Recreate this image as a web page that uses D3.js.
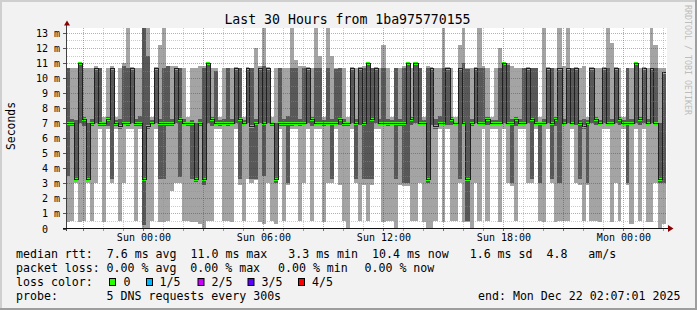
<!DOCTYPE html>
<html><head><meta charset="utf-8">
<script src="https://cdn.jsdelivr.net/npm/d3@7"></script>
<style>
body{margin:0;background:#f2f2f2;}
svg text{font-family:"DejaVu Sans Mono",monospace;}
</style>
</head><body>
<svg id="chart" width="697" height="310"></svg>
<script>
// ---------------- data ----------------
const titleText = "Last 30 Hours from 1ba975770155";
const startTime = new Date(Date.UTC(2025, 11, 20, 20, 7, 1));
const endTime   = new Date(Date.UTC(2025, 11, 22, 2, 7, 1));
const stepMinutes = 12;

// five sorted pings per sample (ms): max, 4th, median, 2nd, min
const pingMax = [
 10.7,10.7,10.7,11.0,10.7,10.7,10.7,10.8,10.7,7.4,
 10.7,10.8,7.4,10.7,11.0,13.4,10.7,10.7,10.7,13.4,
 13.4,7.4,10.7,12.2,13.4,10.8,10.8,10.8,10.7,10.7,
 7.4,10.7,10.7,10.8,10.8,11.0,10.7,10.7,7.4,10.7,
 10.7,10.7,10.7,10.7,7.4,10.7,10.7,12.0,10.8,13.4,
 10.7,7.4,10.7,10.7,10.7,10.7,13.4,11.2,10.8,10.8,
 10.7,10.7,13.4,11.5,7.4,13.4,11.5,10.7,10.7,10.7,
 7.4,10.7,10.7,10.7,10.8,11.0,10.7,10.7,10.7,12.2,
 10.7,7.4,10.7,10.7,10.8,11.0,10.7,11.0,10.7,7.4,
 10.8,10.7,10.7,10.7,13.4,10.7,10.7,7.4,12.2,13.4,
 10.7,10.7,10.7,13.4,10.8,10.7,7.4,10.7,12.0,11.0,
 11.0,10.8,10.7,10.7,10.7,10.7,10.7,10.7,7.4,13.4,
 10.7,10.7,10.7,13.4,10.8,13.4,10.7,10.7,10.7,10.8,
 7.4,10.7,10.7,10.7,10.7,13.4,12.3,10.7,10.7,7.4,
 10.7,10.7,11.0,10.7,10.7,10.7,13.4,12.2,10.7,10.7];
const pingP4 = [
 10.7,7.3,7.2,11.0,7.4,7.0,7.3,10.7,10.7,7.1,
 7.4,10.7,7.2,7.3,10.8,10.7,10.7,7.3,7.5,13.4,
 11.5,7.2,10.7,7.3,10.7,10.8,7.3,10.7,10.7,7.3,
 7.1,7.2,7.0,7.3,10.7,11.0,7.4,10.5,7.2,7.3,
 10.7,7.3,10.7,10.7,7.2,10.7,10.7,7.3,10.7,10.8,
 10.7,7.1,7.0,10.7,7.3,7.5,10.7,10.7,7.3,10.7,
 10.7,7.4,10.7,10.7,7.2,10.7,7.3,10.6,10.7,7.3,
 7.1,10.7,7.3,10.7,10.7,11.0,10.7,10.7,7.3,10.7,
 7.3,7.2,10.7,7.3,10.7,11.0,7.4,11.0,10.7,7.2,
 10.7,10.7,7.3,7.5,10.7,10.7,7.4,7.1,10.7,11.0,
 10.6,7.3,10.7,10.7,10.7,7.4,7.2,7.2,10.7,11.0,
 10.9,7.3,7.4,7.3,10.7,10.7,10.7,10.7,7.1,7.3,
 10.7,10.7,7.4,10.7,7.3,10.7,10.7,10.7,7.2,7.3,
 7.2,10.7,7.4,7.2,10.7,10.7,7.3,10.7,7.4,7.2,
 10.7,7.3,11.0,7.4,10.7,7.3,10.7,10.7,7.0,10.5];
const medianRtt = [
 7.0,7.0,3.3,11.0,7.3,3.3,7.0,10.7,7.0,7.0,
 7.3,10.7,7.0,6.8,7.0,7.0,10.7,7.0,7.0,3.3,
 6.8,7.0,10.7,7.0,7.0,7.0,7.0,10.7,7.3,7.0,
 7.0,7.0,3.3,7.0,3.3,11.0,7.3,7.0,7.0,7.0,
 7.0,7.0,10.7,7.3,7.0,10.7,6.8,7.0,10.7,7.0,
 10.7,7.0,3.3,7.0,7.0,7.0,7.0,7.0,7.0,7.0,
 10.7,7.3,7.0,7.0,7.0,7.0,7.0,7.0,7.3,7.0,
 7.0,10.7,7.0,10.7,7.0,11.0,7.3,10.7,7.0,7.0,
 7.0,7.0,7.0,7.0,7.0,11.0,7.3,11.0,7.0,7.0,
 3.3,10.7,6.8,7.0,7.0,10.7,7.3,7.0,10.7,7.0,
 3.3,7.0,10.7,7.0,7.0,7.3,7.0,7.0,7.0,11.0,
 7.0,7.0,7.3,7.0,7.0,10.7,7.3,7.0,7.0,7.0,
 10.7,7.0,7.3,10.7,7.0,10.7,7.0,10.7,7.0,6.8,
 7.0,10.7,7.3,7.0,10.7,7.0,7.0,10.7,7.3,7.0,
 7.0,7.0,11.0,7.3,10.7,7.0,10.7,7.0,3.3,10.4];
const pingP2 = [
 3.5,6.8,3.3,7.0,6.8,3.2,6.8,7.0,6.8,6.8,
 6.8,3.3,6.8,6.6,6.9,6.8,7.0,6.8,6.8,0.2,
 6.6,6.9,7.0,3.3,3.3,6.8,6.8,7.0,3.4,6.9,
 6.8,3.3,3.1,6.8,2.9,7.0,6.8,6.9,6.8,6.9,
 6.8,6.9,7.0,3.3,6.9,7.0,3.3,3.3,7.0,3.5,
 7.0,6.8,3.0,6.8,6.8,3.0,6.8,6.9,6.8,6.9,
 7.0,6.8,6.9,6.9,6.8,6.9,3.3,6.9,6.9,6.8,
 6.8,7.0,3.3,6.9,3.3,3.3,3.3,7.0,6.9,6.9,
 6.8,6.9,3.3,6.8,3.0,3.0,6.9,7.0,6.9,6.9,
 3.0,6.9,6.6,6.9,6.9,6.9,6.9,6.9,3.3,6.9,
 0.5,6.8,7.0,6.9,6.9,6.9,6.9,6.9,6.9,7.0,
 6.9,3.0,6.8,6.9,6.9,7.0,3.3,6.9,3.0,6.9,
 7.0,3.3,6.8,3.0,6.9,7.0,6.9,6.9,3.3,6.6,
 3.0,7.0,6.9,6.9,7.0,6.9,6.9,7.0,6.9,6.9,
 3.0,6.9,7.0,6.9,7.0,6.9,7.0,6.9,3.0,3.0];
const pingMin = [
 0.4,0.5,3.0,0.4,0.5,3.0,0.5,3.0,6.6,0.4,
 6.6,3.0,6.6,0.5,3.0,6.6,6.6,0.5,6.6,0.0,
 0.0,0.5,6.6,0.4,0.4,0.5,2.5,3.0,3.0,0.5,
 0.5,0.4,0.4,0.3,0.0,0.5,0.5,6.6,6.6,0.5,
 0.5,0.4,6.6,2.9,0.5,3.3,3.0,3.2,0.4,0.3,
 3.0,0.5,0.3,6.6,0.5,2.9,6.6,6.6,0.5,3.0,
 6.6,0.5,6.6,6.6,0.4,3.0,3.0,6.6,2.9,0.5,
 0.0,6.6,3.0,0.5,2.9,0.5,2.9,6.6,6.6,0.4,
 0.5,0.5,0.0,2.9,2.8,2.8,0.5,0.5,3.0,0.4,
 0.0,0.0,0.5,6.6,0.4,6.6,0.5,0.5,3.0,0.4,
 0.4,0.0,3.0,0.5,6.6,0.5,6.6,6.6,0.4,6.6,
 3.0,2.8,0.5,6.6,6.6,3.0,3.0,6.6,0.5,0.4,
 6.6,3.0,0.4,0.5,0.5,0.5,6.6,3.0,2.9,0.5,
 2.9,0.5,0.5,0.4,6.6,6.6,0.4,3.0,0.5,6.6,
 2.9,0.3,6.6,0.5,6.6,0.4,0.4,3.0,0.0,0.3];
// packets lost per sample (of 5)
const lossCount = medianRtt.map(() => 0);

const yTickValues = [0,1,2,3,4,5,6,7,8,9,10,11,12,13];
const yUnit = "m";
const xTickTimes = ["2025-12-21T00:00:00Z","2025-12-21T06:00:00Z","2025-12-21T12:00:00Z","2025-12-21T18:00:00Z","2025-12-22T00:00:00Z"];
const xTickLabels = ["Sun 00:00","Sun 06:00","Sun 12:00","Sun 18:00","Mon 00:00"];

const lossLabels = ["0","1/5","2/5","3/5","4/5"];
const lossColors = ["#26ff00","#00b8ff","#cc00ff","#5e00ff","#ff0000"];

const legendRtt  = "median rtt:  7.6 ms avg  11.0 ms max   3.3 ms min  10.4 ms now   1.6 ms sd  4.8   am/s";
const legendLoss = [["packet loss:",16],["0.00 % avg",106.6],["0.00 % max",190.3],["0.00 % min",278],["0.00 % now",364.5]];
const legendProbe = [["probe:",16],["5 DNS requests every 300s",106.6],["end: Mon Dec 22 02:07:01 2025",478]];

// ---------------- drawing ----------------
const svg = d3.select("#chart");
const W = 697, H = 310;
const plotL = 66, plotR = 667, plotT = 28, plotB = 228.5;

svg.append("rect").attr("width",W).attr("height",H).attr("fill","#f2f2f2");
svg.append("rect").attr("x",0).attr("y",0).attr("width",W).attr("height",2).attr("fill","#cfcfcf");
svg.append("rect").attr("x",0).attr("y",0).attr("width",2).attr("height",H).attr("fill","#cfcfcf");
svg.append("rect").attr("x",0).attr("y",H-2).attr("width",W).attr("height",2).attr("fill","#9e9e9e");
svg.append("rect").attr("x",W-2).attr("y",0).attr("width",2).attr("height",H).attr("fill","#9e9e9e");

const x = d3.scaleUtc().domain([startTime, endTime]).range([65.5, 665.5]);
const y = d3.scaleLinear().domain([0, 13.33]).range([plotB, plotT]);

svg.append("rect").attr("x",plotL).attr("y",plotT).attr("width",plotR-plotL).attr("height",plotB-plotT).attr("fill","#ffffff");

const samples = medianRtt.map((m,i) => ({
  t0: d3.utcMinute.offset(startTime, i*stepMinutes),
  t1: d3.utcMinute.offset(startTime, (i+1)*stepMinutes),
  max: pingMax[i], p4: pingP4[i], med: m, p2: pingP2[i], min: pingMin[i], loss: lossCount[i]
}));

const clipY = v => Math.round(y(Math.min(v, 13.33)));
const g = svg.append("g").attr("shape-rendering","crispEdges");
g.selectAll("rect.light").data(samples).join("rect")
  .attr("x", d => Math.round(x(d.t0)))
  .attr("width", d => Math.round(x(d.t1)) - Math.round(x(d.t0)))
  .attr("y", d => clipY(d.max))
  .attr("height", d => Math.max(0, clipY(d.min) - clipY(d.max)))
  .attr("fill", "#a4a4a4");
g.selectAll("rect.dark").data(samples).join("rect")
  .attr("x", d => Math.round(x(d.t0)))
  .attr("width", d => Math.round(x(d.t1)) - Math.round(x(d.t0)))
  .attr("y", d => clipY(d.p4))
  .attr("height", d => Math.max(0, clipY(d.p2) - clipY(d.p4)))
  .attr("fill", "#585858");

// median line (step)
const medPts = samples.map(d => [Math.round(x(d.t0)), Math.round(y(d.med)) + 0.5]);
medPts.push([Math.round(x(endTime)), Math.round(y(medianRtt[medianRtt.length-1])) + 0.5]);
svg.append("path").attr("d", d3.line().curve(d3.curveStepAfter)(medPts))
  .attr("fill","none").attr("stroke","#202020").attr("stroke-width",1).attr("shape-rendering","crispEdges");

// loss-colored median marks
g.selectAll("rect.loss").data(samples).join("rect")
  .attr("x", d => Math.round(x(d.t0)))
  .attr("width", d => Math.round(x(d.t1)) - Math.round(x(d.t0)))
  .attr("y", d => Math.round(y(d.med)) - 1)
  .attr("height", 3)
  .attr("fill", d => lossColors[d.loss]);

// grid (drawn over the data)
const gridG = svg.append("g").attr("shape-rendering","crispEdges");
const minorCol = "rgba(140,140,140,0.45)", majorCol = "rgba(130,30,30,0.4)";
d3.range(1, 27).forEach(k => {
  const v = k/2, yy = Math.round(y(v)) + 0.5;
  gridG.append("line").attr("x1",plotL+1).attr("x2",plotR).attr("y1",yy).attr("y2",yy)
    .attr("stroke", k%2===0 ? majorCol : minorCol).attr("stroke-dasharray","1,1");
});
const hours = d3.utcHour.range(d3.utcHour.ceil(startTime), endTime);
hours.forEach(h => {
  const xx = Math.round(x(h)) + 0.5, major = h.getUTCHours()%3===0;
  gridG.append("line").attr("x1",xx).attr("x2",xx).attr("y1",plotT).attr("y2",plotB)
    .attr("stroke", major ? majorCol : minorCol).attr("stroke-dasharray","1,1");
  gridG.append("line").attr("x1",xx).attr("x2",xx).attr("y1",plotB).attr("y2",plotB+2.5)
    .attr("stroke", major ? "rgba(130,30,30,0.7)" : "rgba(120,120,120,0.7)");
});

// axes
yTickValues.forEach(v => {
  const yy = Math.round(y(v)) + 0.5;
  gridG.append("line").attr("x1",63).attr("x2",66).attr("y1",yy).attr("y2",yy).attr("stroke","#555");
  svg.append("text").attr("x",48).attr("y",yy+3.5).attr("text-anchor","end")
    .attr("font-size","10px").attr("fill","#000").text(v);
  if (v > 0) svg.append("text").attr("x",54).attr("y",yy+3.5)
    .attr("font-size","10px").attr("fill","#000").text(yUnit);
});
gridG.append("line").attr("x1",66.5).attr("x2",66.5).attr("y1",24).attr("y2",plotB+2).attr("stroke","#404040");
gridG.append("line").attr("x1",63).attr("x2",669).attr("y1",plotB).attr("y2",plotB).attr("stroke","#101010");
svg.append("path").attr("d","M64,25.5 L70,25.5 L67,20.5 Z").attr("fill","#8b0000");
svg.append("path").attr("d","M668,225 L668,232 L673.5,228.5 Z").attr("fill","#8b0000");

xTickTimes.forEach((ts,i) => {
  svg.append("text").attr("x", x(new Date(ts)) + 0.8).attr("y",241).attr("text-anchor","middle")
    .attr("font-size","10px").attr("fill","#000").text(xTickLabels[i]);
});

// title and axis label
svg.append("text").attr("x",347.5).attr("y",24).attr("text-anchor","middle")
  .attr("font-size","13.2px").attr("fill","#000").text(titleText);
svg.append("text").attr("transform","translate(14.5,126) rotate(-90)").attr("text-anchor","middle")
  .attr("font-size","11.4px").attr("fill","#000").text("Seconds");
svg.append("text").attr("transform","translate(685,5) rotate(90)")
  .attr("font-size","8.3px").attr("fill","#bdbdbd").text("RRDTOOL / TOBI OETIKER");

// legend
const rowY = [258, 272, 286, 300];
const lfs = "11.6px";
svg.append("text").attr("x",16).attr("y",rowY[0]).attr("font-size",lfs).attr("fill","#000")
  .style("white-space","pre").attr("xml:space","preserve").text(legendRtt);
legendLoss.forEach(([t,xx]) => svg.append("text").attr("x",xx).attr("y",rowY[1]).attr("font-size",lfs).attr("fill","#000").text(t));
svg.append("text").attr("x",16).attr("y",rowY[2]).attr("font-size",lfs).attr("fill","#000").text("loss color:");
const swX = [109, 146, 197.5, 247.5, 298];
const labX = [123.5, 159.5, 211.5, 261.5, 312];
lossLabels.forEach((l,i) => {
  svg.append("rect").attr("x",swX[i]+0.5).attr("y",278.5).attr("width",6).attr("height",7)
    .attr("fill",lossColors[i]).attr("stroke","#000").attr("stroke-width",1);
  svg.append("text").attr("x",labX[i]).attr("y",rowY[2]).attr("font-size",lfs).attr("fill","#000").text(l);
});
legendProbe.forEach(([t,xx]) => svg.append("text").attr("x",xx).attr("y",rowY[3]).attr("font-size",lfs).attr("fill","#000").text(t));
</script>
</body></html>
